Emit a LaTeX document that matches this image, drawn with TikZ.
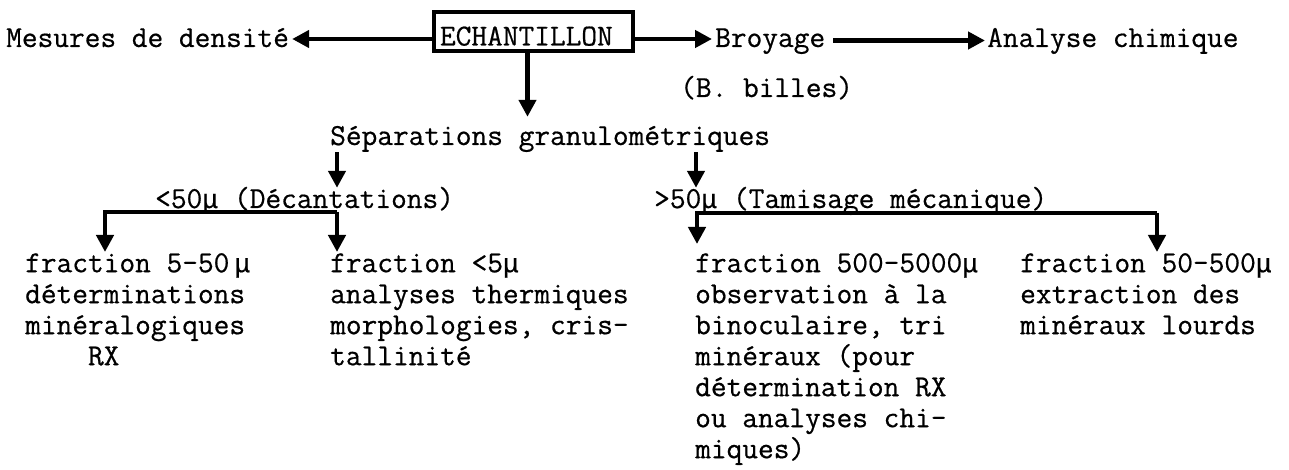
\documentclass[tikz,border=0pt]{standalone}
\usepackage{fontspec}
\newfontfamily\tw[FakeBold=0.6]{Latin Modern Mono}
\newfontfamily\mufont[FakeBold=0.6]{Liberation Mono}
\usetikzlibrary{arrows.meta}
\newcommand\twsize{\tw\fontsize{30.5pt}{31pt}\selectfont}
\newcommand\micro{{\mufont\fontsize{26.7pt}{31pt}\selectfont μ}}
\newcommand\fst{\rule{0pt}{20pt}}
\tikzset{
  txt/.style={font=\twsize, inner sep=0pt, anchor=base west, text height=20pt, text depth=7pt},
  col/.style={font=\twsize, inner sep=0pt, anchor=north west, align=left},
  arr/.style={line width=4.5pt, -{Triangle[length=17pt,width=17pt]}},
  mainbox/.style={draw, line width=4pt, inner xsep=6pt, inner ysep=0pt,
    minimum width=199pt, minimum height=39pt, text width=187pt, align=left,
    text height=28pt, text depth=0pt, font=\twsize}
}
\begin{document}
\begin{tikzpicture}[x=1pt,y=-1pt]
\useasboundingbox (0,0) rectangle (1289,470);
% top row
\node[mainbox] (ech) at (533.5,31.5) {ECHANTILLON};
\node[txt] (mes) at (6,47) {Mesures de densité};
\node[txt] (broy) at (715,47) {Broyage};
\node[txt] (ana) at (987,47) {Analyse chimique};
\node[txt] (bil) at (680,97) {(B. billes)};
\node[txt] (sep) at (330,145) {Séparations granulométriques};
\node[txt] (dec) at (155,208) {<50\micro{} (Décantations)};
\node[txt] (tam) at (654,208) {>50\micro{} (Tamisage mécanique)};
% columns
\node[col] (f1) at (25,252) {\fst fraction 5-50\,\micro\\déterminations\\minéralogiques\\\hphantom{xxxx}RX};
\node[col] (f2) at (330,252) {\fst fraction <5\micro\\analyses thermiques\\morphologies, cris-\\tallinité};
\node[col] (f3) at (695,252) {\fst fraction 500-5000\micro\\observation à la\\binoculaire, tri\\minéraux (pour\\détermination RX\\ou analyses chi-\\miques)};
\node[col] (f4) at (1020,252) {\fst fraction 50-500\micro\\extraction des\\minéraux lourds};
% top arrows
\draw[arr, shorten >=3pt] ([yshift=-7.5pt]ech.west) -- ([yshift=-7.5pt]ech.west -| mes.east);
\draw[arr, shorten >=3pt] ([yshift=-7.5pt]ech.east) -- ([yshift=-7.5pt]ech.east -| broy.west);
\draw[arr, shorten <=8pt, shorten >=2pt] (broy.east) -- (ana.west);
\draw[arr, shorten >=8pt] ([xshift=-6pt]ech.south) -- ([xshift=-6pt]ech.south |- sep.north);
% split arrows
\coordinate (kL) at (337,0);
\coordinate (kR) at (696,0);
\draw[arr] (kL |- sep.south) -- (kL |- dec.north);
\draw[arr] (kR |- sep.south) -- (kR |- tam.north);
% branches
\coordinate (b1) at (105,212);
\coordinate (b2) at (337,212);
\coordinate (b3) at (697,213);
\coordinate (b4) at (1157,213);
\draw[arr] (b2) -- (b1) -- (b1 |- f1.north);
\draw[arr] (b2) -- (b2 |- f2.north);
\draw[arr, shorten >=8pt] (b4) -- (b3) -- (b3 |- f3.north);
\draw[arr] (b4) -- (b4 |- f4.north);
\end{tikzpicture}
\end{document}
